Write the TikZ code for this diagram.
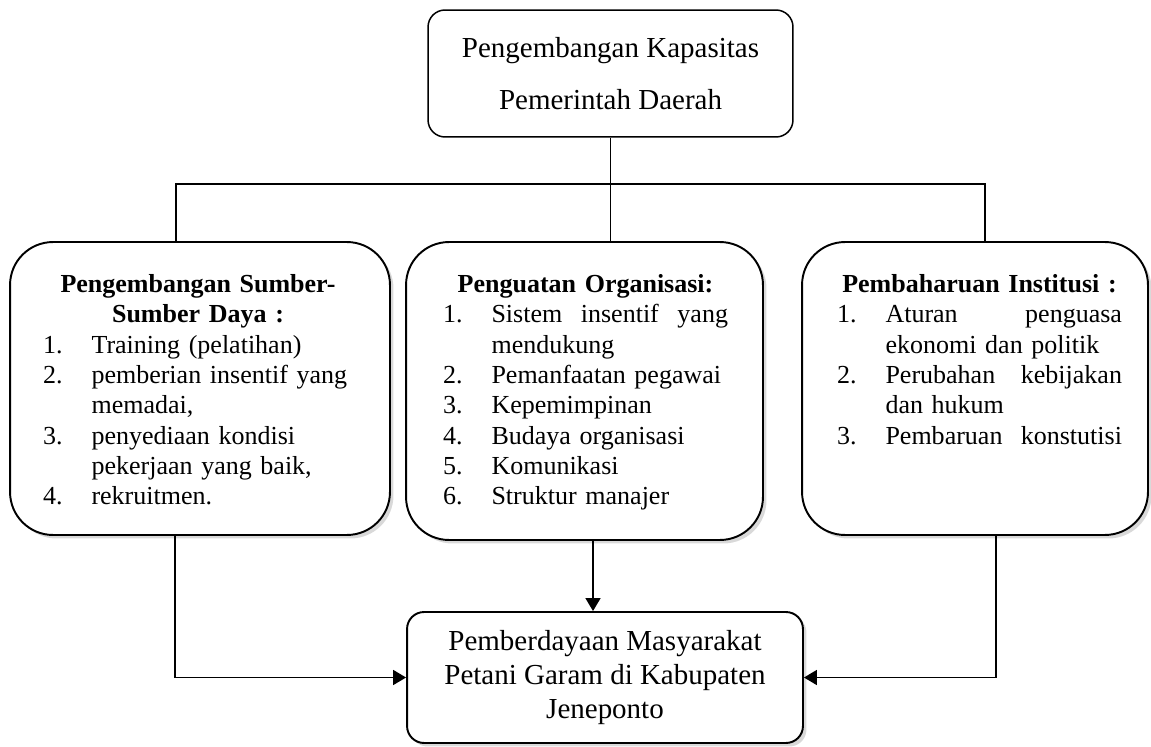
\documentclass[tikz,border=0pt]{standalone}
\usepackage{fontspec}
\setmainfont{Liberation Serif}
\usetikzlibrary{shadows,arrows.meta}

\newcommand{\listfont}{\fontsize{14.8}{17.25}\selectfont\hyphenpenalty=10000\exhyphenpenalty=10000}
\newcommand{\capfont}{\fontsize{16.5}{29.6}\selectfont}
\newcommand{\goalfont}{\fontsize{16.5}{19.1}\selectfont}
\newcommand{\numitem}[2]{\par\noindent\hangindent=0.97cm\hangafter=1\makebox[0.97cm][l]{#1}#2}

\tikzset{
  bigbox/.style={draw, line width=1.1pt, fill=white, rounded corners=0.86cm,
    minimum height=5.86cm,
    drop shadow={shadow xshift=0.07cm, shadow yshift=-0.07cm, opacity=0.3}},
  listtext/.style={inner sep=0pt, anchor=north, font={\listfont\parindent=0pt}},
  tree/.style={line width=0.75pt},
  flow/.style={line width=0.9pt, -{Triangle[length=0.26cm, width=0.3cm]}}
}

\begin{document}
\begin{tikzpicture}[x=0.02cm, y=-0.02cm]
\useasboundingbox (0,0) rectangle (1151,746);
% Top box
\node[draw, line width=0.85pt, rounded corners=0.34cm, minimum width=7.3cm,
  minimum height=2.54cm, align=center, font=\capfont] (cap) at (610.5,73.5)
  {Pengembangan Kapasitas\\Pemerintah Daerah};
% Three boxes
\node[bigbox, minimum width=7.6cm] (leftbox) at (200,388.5) {};
\node[bigbox, minimum width=7.14cm, minimum height=5.96cm] (midbox) at (584.5,391) {};
\node[bigbox, minimum width=6.92cm] (rightbox) at (975,388.5) {};
% Box texts
\node[listtext, text width=6.2cm] (lefttext) at (198,271) {%
  {\centering\bfseries\strut Pengembangan Sumber-\\Sumber Daya :\par}
  \raggedright
  \numitem{1.}{Training (pelatihan)}
  \numitem{2.}{pemberian insentif yang\newline memadai,}
  \numitem{3.}{penyediaan kondisi\newline pekerjaan yang baik,}
  \numitem{4.}{rekruitmen.}\par};
\node[listtext, text width=5.7cm] (midtext) at (585.5,271) {%
  {\centering\bfseries\strut Penguatan Organisasi:\par}
  \numitem{1.}{Sistem\hfill insentif\hfill yang\newline mendukung}
  \numitem{2.}{Pemanfaatan pegawai}
  \numitem{3.}{Kepemimpinan}
  \numitem{4.}{Budaya organisasi}
  \numitem{5.}{Komunikasi}
  \numitem{6.}{Struktur manajer}\par};
\node[listtext, text width=5.7cm] (righttext) at (979.5,271) {%
  {\centering\bfseries\strut Pembaharuan Institusi :\par}
  \numitem{1.}{Aturan\hfill penguasa\newline ekonomi dan politik}
  \numitem{2.}{Perubahan\hfill kebijakan\newline dan hukum}
  \numitem{3.}{Pembaruan\hfill konstutisi}\par};
% Bottom box
\node[draw, line width=1.1pt, fill=white, rounded corners=0.34cm, minimum width=7.92cm,
  minimum height=2.62cm, align=center, font=\goalfont,
  drop shadow={shadow xshift=0.07cm, shadow yshift=-0.07cm, opacity=0.3}] (goal) at (605,677.5)
  {Pemberdayaan Masyarakat\\Petani Garam di Kabupaten\\Jeneponto};
% Tree lines
\coordinate (busL) at (176,184);
\coordinate (busR) at (985,184);
\draw[tree] (cap.south) -- (cap.south |- midbox.north);
\draw[tree] (busL |- leftbox.north) -- (busL) -- (busR) -- (busR |- rightbox.north);
% Arrows to bottom box
\coordinate (dropL) at (175,677.5);
\coordinate (dropM) at (593,600);
\coordinate (dropR) at (996,677.5);
\draw[flow] (leftbox.south -| dropL) -- (dropL) -- (goal.west);
\draw[flow] (midbox.south -| dropM) -- (goal.north -| dropM);
\draw[flow] (rightbox.south -| dropR) -- (dropR) -- (goal.east);
\end{tikzpicture}
\end{document}
